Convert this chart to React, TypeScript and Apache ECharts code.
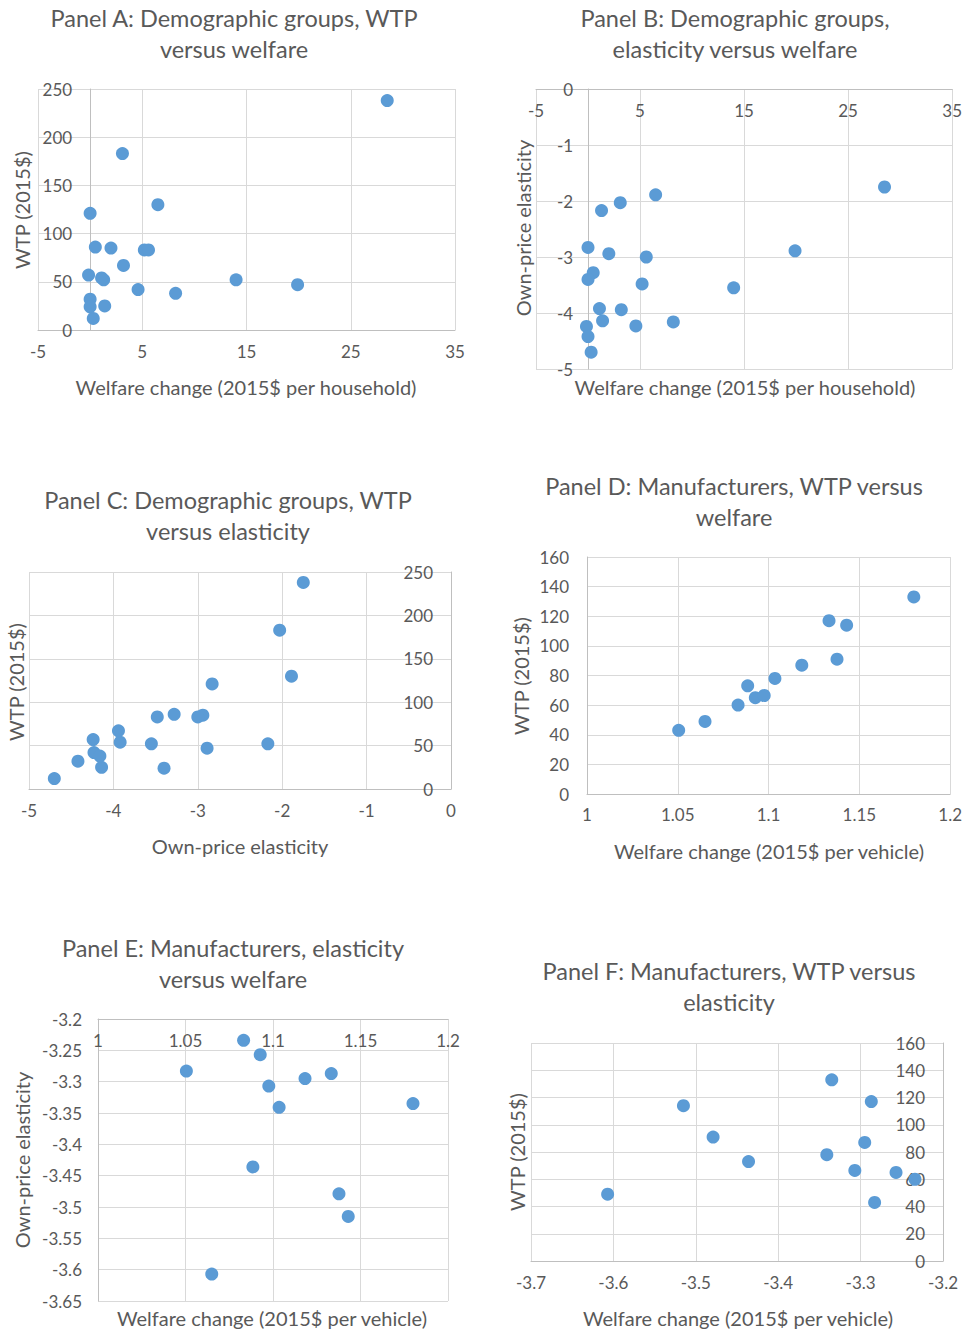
import React, { useEffect, useRef } from "react";
import * as echarts from "echarts";

// Demographic groups (20)
const demoWelfare = [28.5, 3.1, 6.5, 0.0, 1.3, 1.1, 1.4, 0.5, 2.0, 5.2, 5.6, 3.2, -0.15, 14.0, 19.9, 4.6, 8.2, 0.0, 0.0, 0.3];
const demoElasticity = [-1.75, -2.03, -1.89, -2.83, -2.17, -3.92, -4.14, -3.28, -2.94, -3.48, -3.0, -3.94, -4.24, -3.55, -2.89, -4.23, -4.16, -4.42, -3.4, -4.7];
const demoWTP = [238, 183, 130, 121, 52, 54, 25, 86, 85, 83, 83, 67, 57, 52, 47, 42, 38, 32, 24, 12];

// Manufacturers (12)
const mfrWelfare = [1.18, 1.1333, 1.143, 1.1377, 1.1183, 1.1035, 1.0885, 1.0927, 1.0976, 1.0832, 1.065, 1.0505];
const mfrElasticity = [-3.335, -3.287, -3.515, -3.479, -3.295, -3.341, -3.436, -3.257, -3.307, -3.234, -3.607, -3.283];
const mfrWTP = [133, 117, 114, 91, 87, 78, 73, 65, 66.5, 60, 49, 43];

const titles = [
  "Panel A: Demographic groups, WTP\nversus welfare",
  "Panel B: Demographic groups,\nelasticity versus welfare",
  "Panel C: Demographic groups, WTP\nversus elasticity",
  "Panel D: Manufacturers, WTP versus\nwelfare",
  "Panel E: Manufacturers, elasticity\nversus welfare",
  "Panel F: Manufacturers, WTP versus\nelasticity",
];

const FONT = "Lato, 'Open Sans', sans-serif";
const TXT = "#595959";
const GRIDC = "#d9d9d9";
const AXC = "#bfbfbf";
const DOT = "#5b9bd5";

function zip(a: number[], b: number[]) {
  return a.map((v, i) => [v, b[i]]);
}

export default function App() {
  const ref = useRef<HTMLDivElement>(null);
  useEffect(() => {
    if (!ref.current) return;
    const chart = echarts.init(ref.current, null, { renderer: "svg" });

    const grids = [
      { left: 38, top: 89, width: 417, height: 241 },
      { left: 536, top: 89, width: 417, height: 280 },
      { left: 29, top: 572, width: 422, height: 217 },
      { left: 587, top: 557, width: 364, height: 237 },
      { left: 98, top: 1019, width: 350, height: 282 },
      { left: 531, top: 1043, width: 412, height: 218 },
    ];

    // y axis crossing at x = 0 for panels A and B
    const zeroOffset = (g: { width: number }, min: number, max: number) => -((0 - min) / (max - min)) * g.width;

    const label = (margin: number, inside = false) => ({
      color: TXT,
      fontFamily: FONT,
      fontSize: 17,
      margin,
      inside,
      showMinLabel: true,
      showMaxLabel: true,
    });
    const split = { show: true, lineStyle: { color: GRIDC, width: 1 } };
    const line = (onZero: boolean) => ({ show: true, onZero, lineStyle: { color: AXC, width: 1 } });
    const noTick = { show: false };

    const xAxes: any[] = [
      { gridIndex: 0, type: "value", min: -5, max: 35, interval: 10, axisLabel: label(13), splitLine: split, axisLine: line(false), axisTick: noTick },
      { gridIndex: 1, type: "value", min: -5, max: 35, interval: 10, position: "top", axisLabel: label(13, true), splitLine: split, axisLine: line(false), axisTick: noTick },
      { gridIndex: 2, type: "value", min: -5, max: 0, interval: 1, axisLabel: label(13), splitLine: split, axisLine: line(false), axisTick: noTick },
      { gridIndex: 3, type: "value", min: 1, max: 1.2, interval: 0.05, axisLabel: label(12), splitLine: split, axisLine: line(false), axisTick: noTick },
      { gridIndex: 4, type: "value", min: 1, max: 1.2, interval: 0.05, position: "top", axisLabel: label(13, true), splitLine: split, axisLine: line(false), axisTick: noTick },
      { gridIndex: 5, type: "value", min: -3.7, max: -3.2, interval: 0.1, axisLabel: label(13), splitLine: split, axisLine: line(false), axisTick: noTick },
    ];
    const yAxes: any[] = [
      { gridIndex: 0, type: "value", min: 0, max: 250, interval: 50, offset: zeroOffset(grids[0], -5, 35), axisLabel: label(18), splitLine: split, axisLine: line(false), axisTick: noTick },
      { gridIndex: 1, type: "value", min: -5, max: 0, interval: 1, offset: zeroOffset(grids[1], -5, 35), axisLabel: label(15), splitLine: split, axisLine: line(false), axisTick: noTick },
      { gridIndex: 2, type: "value", min: 0, max: 250, interval: 50, position: "right", axisLabel: label(18, true), splitLine: split, axisLine: line(false), axisTick: noTick },
      { gridIndex: 3, type: "value", min: 0, max: 160, interval: 20, axisLabel: label(18), splitLine: split, axisLine: line(false), axisTick: noTick },
      { gridIndex: 4, type: "value", min: -3.65, max: -3.2, interval: 0.05, axisLabel: label(16), splitLine: split, axisLine: line(false), axisTick: noTick },
      { gridIndex: 5, type: "value", min: 0, max: 160, interval: 20, position: "right", axisLabel: label(18, true), splitLine: split, axisLine: line(false), axisTick: noTick },
    ];

    const datasets = [
      zip(demoWelfare, demoWTP),
      zip(demoWelfare, demoElasticity),
      zip(demoElasticity, demoWTP),
      zip(mfrWelfare, mfrWTP),
      zip(mfrWelfare, mfrElasticity),
      zip(mfrElasticity, mfrWTP),
    ];

    const series = datasets.map((d, i) => ({
      type: "scatter",
      xAxisIndex: i,
      yAxisIndex: i,
      data: d,
      symbolSize: 13,
      itemStyle: { color: DOT, opacity: 1 },
      z: 5,
    }));

    const titlePos = [
      [234, 33],
      [735, 33],
      [228, 515],
      [734, 501],
      [233, 963],
      [729, 986],
    ];
    const xNames = [
      ["Welfare change (2015$ per household)", 246, 387],
      ["Welfare change (2015$ per household)", 745, 387],
      ["Own-price elasticity", 240, 846],
      ["Welfare change (2015$ per vehicle)", 769, 851],
      ["Welfare change (2015$ per vehicle)", 272, 1318],
      ["Welfare change (2015$ per vehicle)", 738, 1318],
    ];
    const yNames = [
      ["WTP (2015$)", 22, 210],
      ["Own-price elasticity", 523, 228],
      ["WTP (2015$)", 16, 682],
      ["WTP (2015$)", 521, 676],
      ["Own-price elasticity", 22, 1160],
      ["WTP (2015$)", 517, 1152],
    ];

    const graphic: any[] = [];
    titles.forEach((t, i) => {
      graphic.push({
        type: "text",
        x: titlePos[i][0],
        y: titlePos[i][1],
        style: {
          text: t,
          fill: TXT,
          fontFamily: FONT,
          fontSize: 23.5,
          lineHeight: 31,
          align: "center",
          verticalAlign: "middle",
        },
      });
    });
    xNames.forEach((n) => {
      graphic.push({
        type: "text",
        x: n[1] as number,
        y: n[2] as number,
        style: { text: n[0], fill: TXT, fontFamily: FONT, fontSize: 20, align: "center", verticalAlign: "middle" },
      });
    });
    yNames.forEach((n) => {
      graphic.push({
        type: "text",
        x: n[1] as number,
        y: n[2] as number,
        rotation: Math.PI / 2,
        style: { text: n[0], fill: TXT, fontFamily: FONT, fontSize: 20, align: "center", verticalAlign: "middle" },
      });
    });

    chart.setOption({
      animation: false,
      backgroundColor: "#ffffff",
      textStyle: { fontFamily: FONT },
      grid: grids,
      xAxis: xAxes,
      yAxis: yAxes,
      series,
      graphic,
    });
    return () => chart.dispose();
  }, []);

  return (
    <div
      ref={ref}
      style={{ position: "absolute", left: 0, top: 0, width: 965, height: 1332, background: "#fff" }}
    />
  );
}
